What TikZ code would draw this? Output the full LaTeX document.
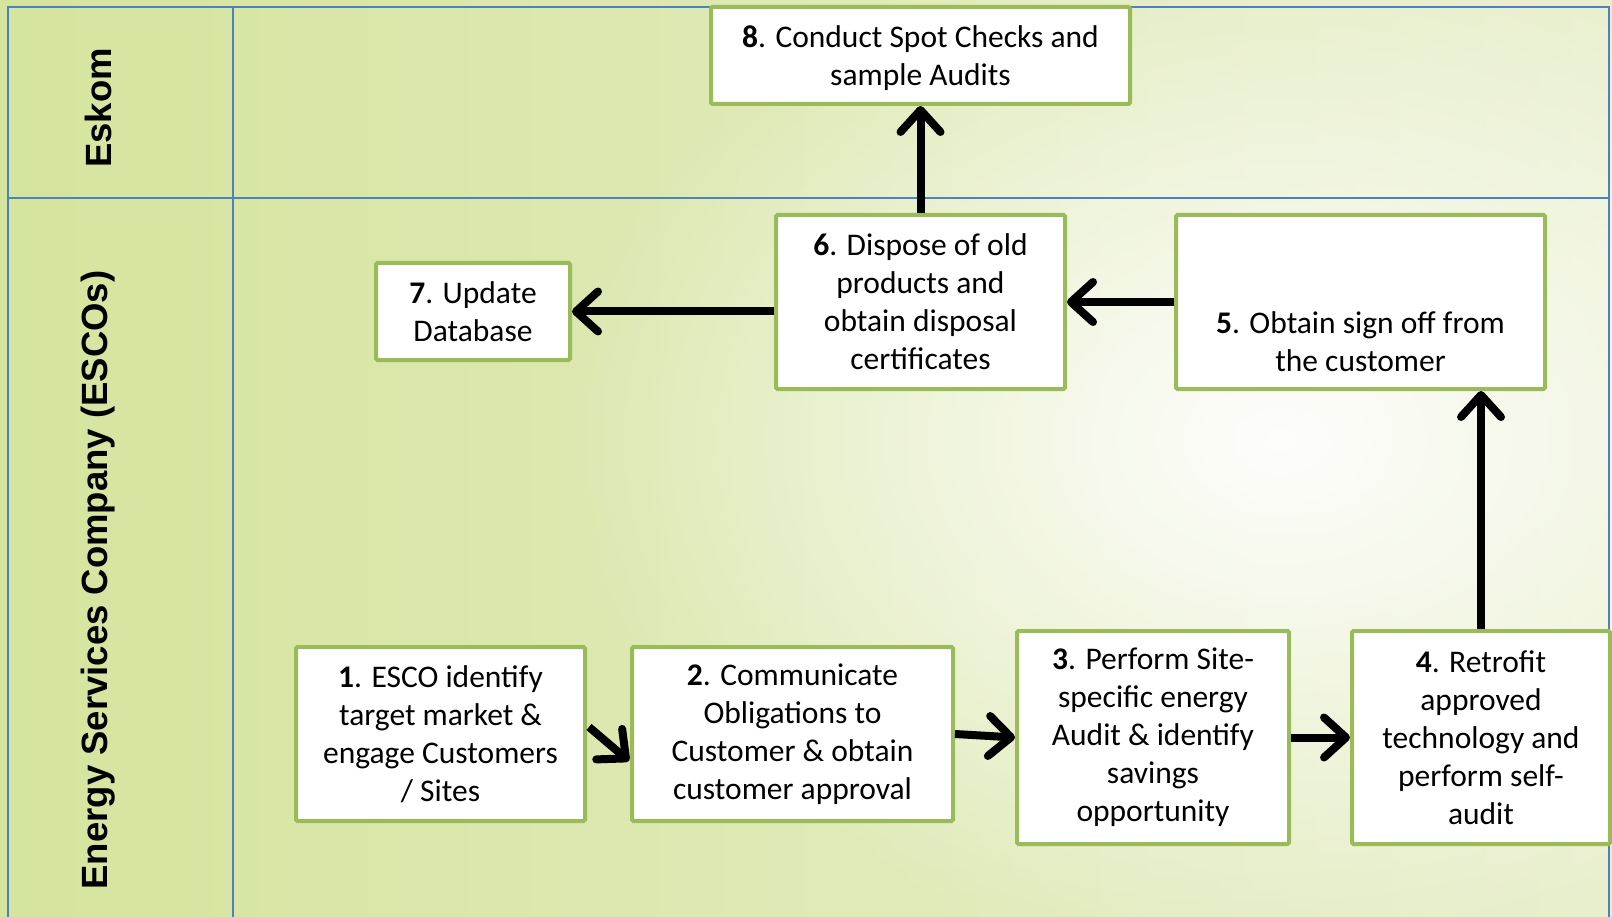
\documentclass[tikz,border=0pt]{standalone}
\usepackage{fontspec}
\setmainfont{Carlito}
\newfontfamily\lanefont{Liberation Sans}
\usetikzlibrary{arrows.meta,fadings,calc}
\tikzfading[name=glowfade, inner color=transparent!0, outer color=transparent!100]
\definecolor{boxgreen}{HTML}{9BBB59}
\definecolor{laneblue}{HTML}{4F81BD}
\definecolor{bgleft}{HTML}{D5E49E}
\definecolor{bgright}{HTML}{E8EFCD}
\tikzset{
  stepbox/.style={draw=boxgreen, line width=4pt, fill=white, rounded corners=1.5pt,
    align=center, inner sep=0pt, font=\fontsize{31.5}{38}\selectfont},
  flow/.style={line width=8pt, -{Straight Barb[length=22pt,width=40pt,round]}},
  lanelabel/.style={rotate=90, font=\lanefont\bfseries\fontsize{36.5}{40}\selectfont},
  laneline/.style={draw=laneblue, line width=1.5pt}
}
\begin{document}
\begin{tikzpicture}[x=1pt,y=-1pt]
\useasboundingbox (0,0) rectangle (1612,917);
% background
\fill[left color=bgleft, right color=bgright] (0,0) rectangle (1612,917);
\fill[white, path fading=glowfade, fill opacity=0.95] (1280,440) ellipse (720 and 520);
% swimlane grid
\draw[laneline] (8,7) rectangle (1609,940);
\draw[laneline] (8,198) -- (1609,198);
\draw[laneline] (233,7) -- (233,940);
% lane labels
\node[lanelabel] (eskom) at (98,108) {Eskom};
\node[lanelabel] (esco) at (98,580) {Energy Services Company (ESCOs)};
% steps
\node[stepbox, minimum width=419pt, minimum height=97pt] (b8) at (920.5,55.5)
  {\rule{0pt}{27pt}\textbf{8}. Conduct Spot Checks and\\sample Audits};
\node[stepbox, minimum width=289pt, minimum height=174pt] (b6) at (920.5,302)
  {\textbf{6}. Dispose of old\\products and\\obtain disposal\\certificates};
\node[stepbox, minimum width=369pt, minimum height=174pt] (b5) at (1360.5,302)
  {\rule{0pt}{30pt}\\\vphantom{Dp}\\\textbf{5}. Obtain sign off from\\the customer\vphantom{p}};
\node[stepbox, minimum width=194pt, minimum height=97pt] (b7) at (473,311.5)
  {\textbf{7}. Update\\Database};
\node[stepbox, minimum width=289pt, minimum height=174pt] (b1) at (440.5,734)
  {\textbf{1}. ESCO identify\\target market \&\\engage Customers\\/ Sites};
\node[stepbox, minimum width=321pt, minimum height=174pt] (b2) at (792.5,734)
  {\textbf{2}. Communicate\\Obligations to\\Customer \& obtain\\customer approval};
\node[stepbox, minimum width=272pt, minimum height=213pt] (b3) at (1153,737.5)
  {\textbf{3}. Perform Site-\\specific energy\\Audit \& identify\\savings\\opportunity};
\node[stepbox, minimum width=258pt, minimum height=213pt] (b4) at (1481,737.5)
  {\textbf{4}. Retrofit\\approved\\technology and\\perform self-\\audit};
% connectors
\draw[flow] ($(b1.east)+(2,-7)$) -- ($(b2.west)+(-1,27)$);
\draw[flow] (b2.east) -- (b3.west);
\draw[flow] (b3.east) -- (b4.west);
\draw[flow] (b4.north) -- (b4.north |- b5.south);
\draw[flow] (b5.west) -- (b6.east);
\draw[flow] (b6.west |- b7.east) -- (b7.east);
\draw[flow] (b6.north) -- (b8.south);
\end{tikzpicture}
\end{document}
